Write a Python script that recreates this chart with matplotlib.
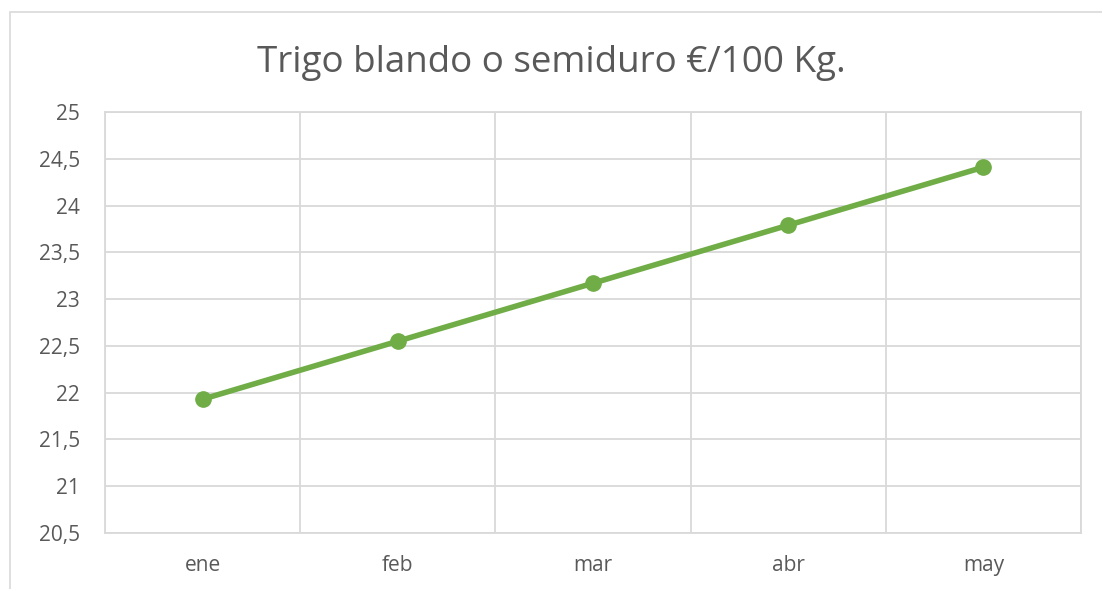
import numpy as np
import matplotlib.pyplot as plt
from matplotlib.patches import Rectangle
from matplotlib.ticker import FuncFormatter

plt.rcParams['font.family'] = ['Open Sans', 'DejaVu Sans']

# datos
meses = ['ene', 'feb', 'mar', 'abr', 'may']
precios = [21.93, 22.55, 23.17, 23.79, 24.41]
y_ticks = [20.5, 21, 21.5, 22, 22.5, 23, 23.5, 24, 24.5, 25]

gris = '#595959'
rejilla = '#d9d9d9'

fig = plt.figure(figsize=(11.02, 5.89), dpi=100)
ax = fig.add_axes([0.0953, 0.0951, 0.8856, 0.7147])

# marco exterior del grafico
fig.patches.append(Rectangle((10 / 1102, -0.05), 1.2, 1 - 12 / 589 + 0.05,
                             transform=fig.transFigure, fill=False,
                             edgecolor=rejilla, linewidth=1.2))

x = np.arange(len(meses))
ax.plot(x, precios, color='#70AD47', linewidth=4, marker='o',
        markersize=11, zorder=3)

ax.set_xlim(-0.5, len(meses) - 0.5)
ax.set_ylim(20.5, 25)
ax.set_yticks(y_ticks)
ax.yaxis.set_major_formatter(FuncFormatter(lambda v, p: f'{v:g}'.replace('.', ',')))
ax.set_xticks(x)
ax.set_xticklabels(meses)
ax.set_xticks(np.arange(-0.5, len(meses)), minor=True)

ax.grid(axis='y', which='major', color=rejilla, linewidth=1.3)
ax.grid(axis='x', which='minor', color=rejilla, linewidth=1.3)
ax.set_axisbelow(True)
for s in ax.spines.values():
    s.set_color(rejilla)
    s.set_linewidth(1.3)

ax.tick_params(axis='both', which='both', length=0, colors=gris, labelsize=15)
ax.tick_params(axis='y', pad=18)
ax.tick_params(axis='x', pad=16)

fig.text(0.5, 1 - 63 / 589, 'Trigo blando o semiduro €/100 Kg.', ha='center',
         va='center', fontsize=26.5, color=gris)

fig.savefig('out.png', dpi=100)
